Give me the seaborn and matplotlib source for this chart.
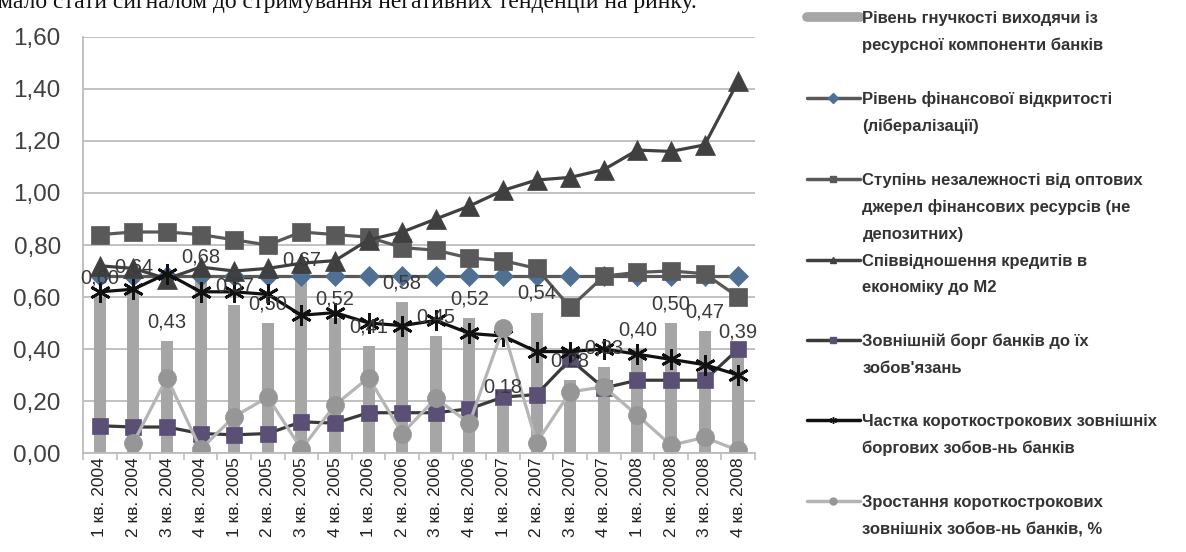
import matplotlib
matplotlib.use("Agg")
from matplotlib import pyplot as plt
from matplotlib.lines import Line2D
from matplotlib.ticker import FuncFormatter
import numpy as np
import pandas as pd
import seaborn as sns

# Data
quarters = [
    "1 кв. 2004", "2 кв. 2004", "3 кв. 2004", "4 кв. 2004",
    "1 кв. 2005", "2 кв. 2005", "3 кв. 2005", "4 кв. 2005",
    "1 кв. 2006", "2 кв. 2006", "3 кв. 2006", "4 кв. 2006",
    "1 кв. 2007", "2 кв. 2007", "3 кв. 2007", "4 кв. 2007",
    "1 кв. 2008", "2 кв. 2008", "3 кв. 2008", "4 кв. 2008",
]
flexibility = [0.60, 0.64, 0.43, 0.68, 0.57, 0.50, 0.67, 0.52, 0.41, 0.58,
               0.45, 0.52, 0.18, 0.54, 0.28, 0.33, 0.40, 0.50, 0.47, 0.39]
openness = [0.68] * 20
independence = [0.84, 0.85, 0.85, 0.84, 0.82, 0.80, 0.85, 0.84, 0.83, 0.79,
                0.78, 0.75, 0.74, 0.71, 0.56, 0.68, 0.695, 0.70, 0.69, 0.60]
credits_m2 = [0.72, 0.71, 0.67, 0.715, 0.70, 0.71, 0.73, 0.74, 0.82, 0.85,
              0.90, 0.95, 1.01, 1.05, 1.06, 1.09, 1.165, 1.16, 1.185, 1.43]
external_debt = [0.105, 0.10, 0.10, 0.075, 0.07, 0.075, 0.12, 0.115, 0.155,
                 0.155, 0.155, 0.17, 0.215, 0.225, 0.36, 0.25, 0.28, 0.28,
                 0.28, 0.40]
short_share = [0.62, 0.63, 0.69, 0.62, 0.62, 0.61, 0.53, 0.54, 0.50, 0.49,
               0.51, 0.46, 0.45, 0.39, 0.39, 0.40, 0.38, 0.36, 0.34, 0.30]
short_growth = [np.nan, 0.04, 0.29, 0.015, 0.14, 0.215, 0.015, 0.185, 0.29,
                0.075, 0.21, 0.115, 0.48, 0.04, 0.235, 0.255, 0.145, 0.03,
                0.06, 0.01]

legend_lines = [
    ["Рівень гнучкості виходячи із", "ресурсної компоненти банків"],
    ["Рівень фінансової відкритості", "(лібералізації)"],
    ["Ступінь незалежності від оптових", "джерел фінансових ресурсів (не",
     "депозитних)"],
    ["Співвідношення кредитів в", "економіку до М2"],
    ["Зовнішній борг банків до їх", "зобов'язань"],
    ["Частка короткострокових зовнішніх", "боргових зобов-нь банків"],
    ["Зростання короткострокових", "зовнішніх зобов-нь банків, %"],
]

# series: values, line colour, marker, marker colour, marker size
line_series = [
    (openness, "#595959", "D", "#4f6f93", 10),
    (independence, "#595959", "s", "#595959", 13),
    (credits_m2, "#404040", "^", "#404040", 14),
    (external_debt, "#3a3a3a", "s", "#5b4f76", 12),
    (short_share, "#111111", (6, 2, 0), "#111111", 15),
    (short_growth, "#b5b5b5", "o", "#969696", 13),
]


def main():
    sns.set_style("white")
    plt.rcParams["font.family"] = ["Liberation Sans", "DejaVu Sans"]

    fig = plt.figure(figsize=(11.86, 5.52), dpi=100)
    ax = fig.add_axes([0.070, 0.1793, 0.5666, 0.7537])

    df = pd.DataFrame({"quarter": quarters, "value": flexibility})
    sns.barplot(df, x="quarter", y="value", order=quarters, color="#a6a6a6",
                saturation=1, width=0.36, linewidth=0, ax=ax)

    for values, lcolor, marker, mcolor, msize in line_series:
        d = pd.DataFrame({"quarter": quarters, "value": values})
        sns.pointplot(d, x="quarter", y="value", order=quarters,
                      color=lcolor, markers=marker, errorbar=None, ax=ax,
                      linewidth=2.3, markersize=msize,
                      markerfacecolor=mcolor, markeredgecolor=mcolor,
                      markeredgewidth=2.0 if marker == (6, 2, 0) else 0.5)

    labels = [f"{v:.2f}".replace(".", ",") for v in flexibility]
    ax.bar_label(ax.containers[0], labels=labels, padding=7, fontsize=14.5,
                 color="#3a3a3a", zorder=5)

    ax.set_ylim(0, 1.6)
    ax.set_yticks(np.arange(0, 1.61, 0.2))
    ax.yaxis.set_major_formatter(
        FuncFormatter(lambda v, p: f"{v:.2f}".replace(".", ",")))
    ax.set_xlim(-0.5, len(quarters) - 0.5)
    ax.set_xlabel("")
    ax.set_ylabel("")
    ax.grid(axis="y", color="#bcbcbc", linewidth=1.3)
    ax.grid(axis="x", visible=False)
    ax.set_axisbelow(True)
    for side in ["top", "right"]:
        ax.spines[side].set_visible(False)
    for side in ["left", "bottom"]:
        ax.spines[side].set_color("#bcbcbc")
        ax.spines[side].set_linewidth(1.3)
    ax.tick_params(axis="y", length=0, pad=16, labelsize=17.5,
                   labelcolor="#404040")
    ax.tick_params(axis="x", which="major", length=0, pad=3, labelsize=12.5,
                   labelcolor="#222222", labelrotation=90)
    ax.set_xticks(np.arange(-0.5, len(quarters), 1), minor=True)
    ax.tick_params(axis="x", which="minor", length=5, color="#bcbcbc",
                   width=1.2, bottom=True)

    # Legend: one row per text line, key on the first line of each entry
    keys = [Line2D([], [], color="#a6a6a6", linewidth=7)]
    for values, lcolor, marker, mcolor, msize in line_series:
        keys.append(Line2D([], [], color=lcolor, linewidth=2.5, marker=marker,
                           markersize=5, markerfacecolor=mcolor,
                           markeredgecolor=mcolor))
    handles, texts = [], []
    blank = Line2D([], [], linewidth=0)
    for i, (key, lines) in enumerate(zip(keys, legend_lines)):
        for j, line in enumerate(lines):
            handles.append(key if j == 0 else blank)
            texts.append(line)
        if len(lines) == 2 and i < len(keys) - 1:
            handles.append(blank)
            texts.append(" ")
    fig.legend(handles, texts, loc="upper left",
               bbox_to_anchor=(0.671, 1.0), frameon=False,
               prop={"family": "Liberation Sans", "weight": "bold",
                     "size": 12},
               labelcolor="#333333", handlelength=3.2, handletextpad=0.15,
               labelspacing=0.70, borderaxespad=0.25)

    fig.text(-0.002, 1 - 8 / 552,
             "мало стати сигналом до стримування негативних тенденцій на ринку.",
             family="Liberation Serif", fontsize=17, va="baseline",
             color="#111111")

    fig.savefig("out.png", dpi=100)


if __name__ == "__main__":
    main()
